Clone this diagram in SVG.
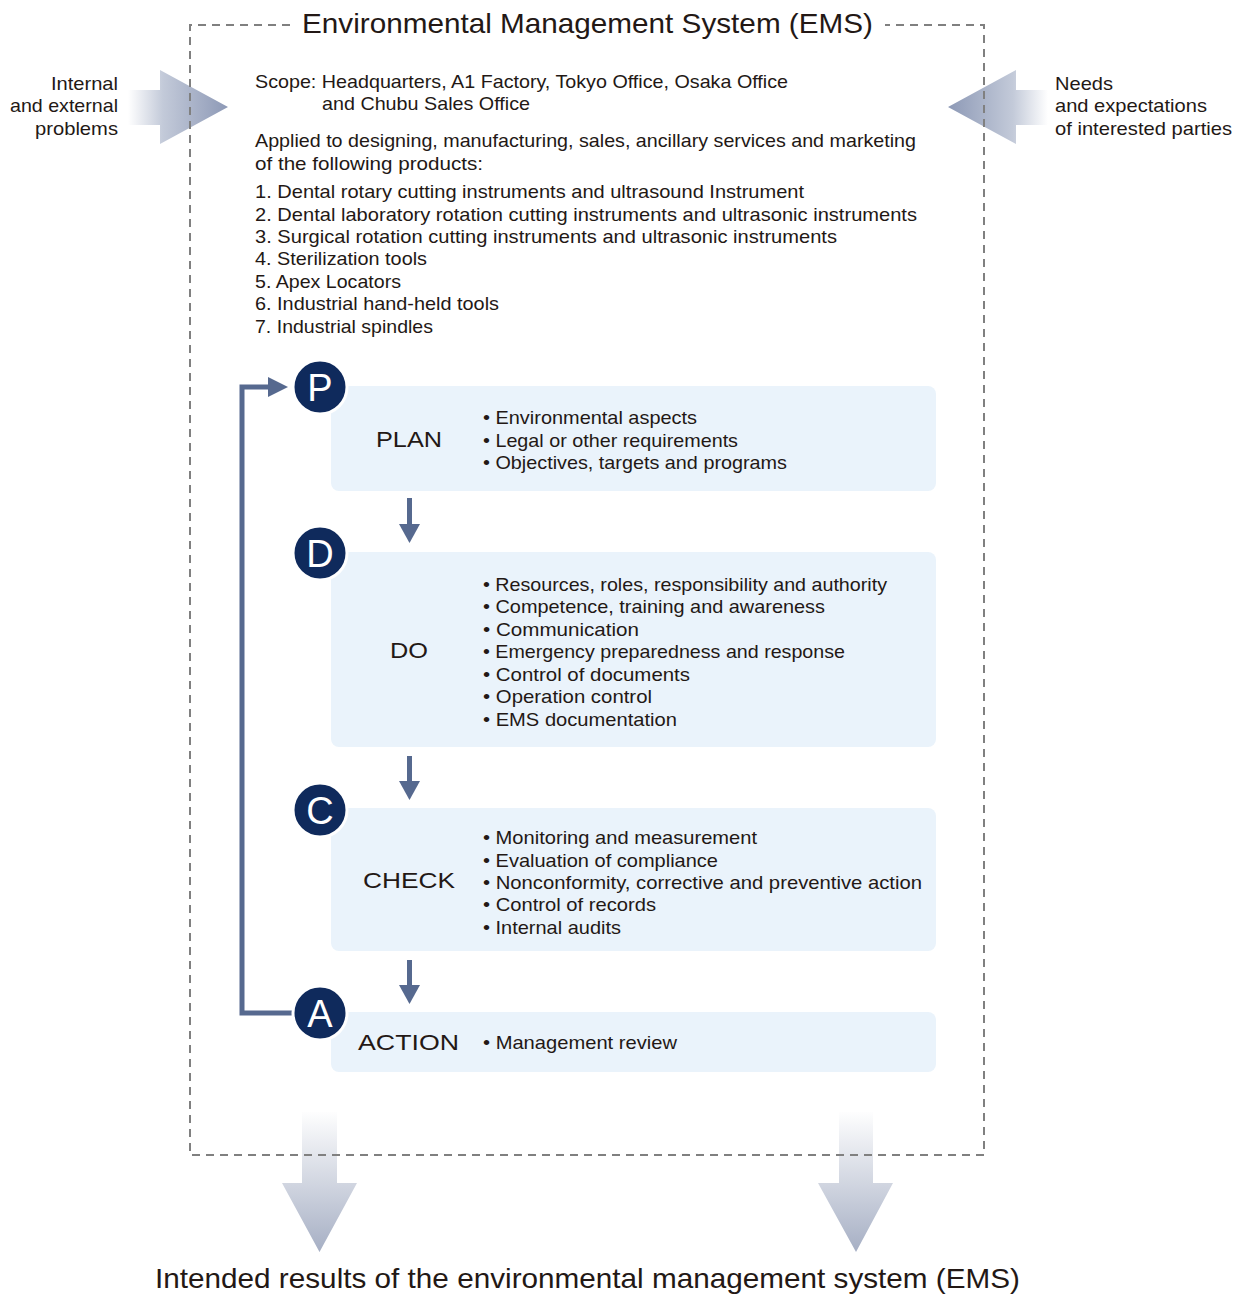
<svg xmlns="http://www.w3.org/2000/svg" width="1246" height="1295" viewBox="0 0 1246 1295">
<style>
text{font-family:"Liberation Sans","Noto Sans",sans-serif;fill:#231815;}
.t{font-size:19px;}
.title{font-size:28px;}
.lbl{font-size:22px;}
.box{fill:#eaf3fb;}
.dash{fill:none;stroke:#808080;stroke-width:2;stroke-dasharray:8 6;}
.circ{fill:#0f2a5c;stroke:#fff;stroke-width:3;}
.cl{font-size:38px;fill:#fff;text-anchor:middle;}
.flow{stroke:#56698f;stroke-width:5;fill:none;}
.head{fill:#56698f;}
</style>
<defs>
<linearGradient id="gL" x1="128" y1="0" x2="228" y2="0" gradientUnits="userSpaceOnUse"><stop offset="0" stop-color="#ffffff"/><stop offset="0.35" stop-color="#c3cad9"/><stop offset="1" stop-color="#8d99b6"/></linearGradient>
<linearGradient id="gR" x1="1048" y1="0" x2="948" y2="0" gradientUnits="userSpaceOnUse"><stop offset="0" stop-color="#ffffff"/><stop offset="0.35" stop-color="#c3cad9"/><stop offset="1" stop-color="#8d99b6"/></linearGradient>
<linearGradient id="gD" x1="0" y1="1110" x2="0" y2="1252" gradientUnits="userSpaceOnUse"><stop offset="0" stop-color="#ffffff"/><stop offset="1" stop-color="#a6afc4"/></linearGradient>
</defs>

<g id="inputs">
<path d="M128,90 H160 V70 L228,107 L160,144 V125 H128 Z" fill="url(#gL)"/>
<path d="M1048,90 H1016 V70 L948,107 L1016,144 V125 H1048 Z" fill="url(#gR)"/>
<path d="M302,1112 H337 V1183 H357 L319.5,1252 L282,1183 H302 Z" fill="url(#gD)"/>
<path d="M839,1112 H873 V1183 H893 L856,1252 L818,1183 H839 Z" fill="url(#gD)"/>
</g>

<g id="frame">
<path class="dash" d="M290,25 H190 V1155 H984 V25 H885"/>
<text class="title" x="302" y="33" textLength="571" lengthAdjust="spacingAndGlyphs">Environmental Management System (EMS)</text>
</g>

<g id="left-label">
<text class="t" x="51" y="90" textLength="67" lengthAdjust="spacingAndGlyphs">Internal</text>
<text class="t" x="10" y="112" textLength="108" lengthAdjust="spacingAndGlyphs">and external</text>
<text class="t" x="35" y="135" textLength="83" lengthAdjust="spacingAndGlyphs">problems</text>
</g>
<g id="right-label">
<text class="t" x="1055" y="90" textLength="58" lengthAdjust="spacingAndGlyphs">Needs</text>
<text class="t" x="1055" y="112" textLength="152" lengthAdjust="spacingAndGlyphs">and expectations</text>
<text class="t" x="1055" y="135" textLength="177" lengthAdjust="spacingAndGlyphs">of interested parties</text>
</g>

<g id="scope">
<text class="t" x="255" y="88" textLength="533" lengthAdjust="spacingAndGlyphs">Scope: Headquarters, A1 Factory, Tokyo Office, Osaka Office</text>
<text class="t" x="322" y="110" textLength="208" lengthAdjust="spacingAndGlyphs">and Chubu Sales Office</text>
<text class="t" x="255" y="147" textLength="661" lengthAdjust="spacingAndGlyphs">Applied to designing, manufacturing, sales, ancillary services and marketing</text>
<text class="t" x="255" y="170" textLength="228" lengthAdjust="spacingAndGlyphs">of the following products:</text>
<text class="t" x="255" y="198" textLength="549" lengthAdjust="spacingAndGlyphs">1. Dental rotary cutting instruments and ultrasound Instrument</text>
<text class="t" x="255" y="221" textLength="662" lengthAdjust="spacingAndGlyphs">2. Dental laboratory rotation cutting instruments and ultrasonic instruments</text>
<text class="t" x="255" y="243" textLength="582" lengthAdjust="spacingAndGlyphs">3. Surgical rotation cutting instruments and ultrasonic instruments</text>
<text class="t" x="255" y="265" textLength="172" lengthAdjust="spacingAndGlyphs">4. Sterilization tools</text>
<text class="t" x="255" y="288" textLength="146" lengthAdjust="spacingAndGlyphs">5. Apex Locators</text>
<text class="t" x="255" y="310" textLength="244" lengthAdjust="spacingAndGlyphs">6. Industrial hand-held tools</text>
<text class="t" x="255" y="333" textLength="178" lengthAdjust="spacingAndGlyphs">7. Industrial spindles</text>
</g>

<g id="connectors">
<path class="flow" d="M293,1013 H242 V387 H270"/>
<path class="head" d="M268,377 L288,387 L268,397 Z"/>
<path class="flow" d="M409.5,498 V527"/>
<path class="head" d="M399,524 H420 L409.5,543 Z"/>
<path class="flow" d="M409.5,756 V784"/>
<path class="head" d="M399,781 H420 L409.5,800 Z"/>
<path class="flow" d="M409.5,960 V988"/>
<path class="head" d="M399,985 H420 L409.5,1004 Z"/>
</g>

<g id="plan">
<rect class="box" x="331" y="386" width="605" height="105" rx="8"/>
<text class="lbl" x="376" y="447" textLength="66" lengthAdjust="spacingAndGlyphs">PLAN</text>
<text class="t" x="483" y="424" textLength="214" lengthAdjust="spacingAndGlyphs">• Environmental aspects</text>
<text class="t" x="483" y="447" textLength="255" lengthAdjust="spacingAndGlyphs">• Legal or other requirements</text>
<text class="t" x="483" y="469" textLength="304" lengthAdjust="spacingAndGlyphs">• Objectives, targets and programs</text>
<circle class="circ" cx="320" cy="387" r="27"/>
<text class="cl" x="320" y="401">P</text>
</g>

<g id="do">
<rect class="box" x="331" y="552" width="605" height="195" rx="8"/>
<text class="lbl" x="390" y="658" textLength="38" lengthAdjust="spacingAndGlyphs">DO</text>
<text class="t" x="483" y="591" textLength="404" lengthAdjust="spacingAndGlyphs">• Resources, roles, responsibility and authority</text>
<text class="t" x="483" y="613" textLength="342" lengthAdjust="spacingAndGlyphs">• Competence, training and awareness</text>
<text class="t" x="483" y="636" textLength="156" lengthAdjust="spacingAndGlyphs">• Communication</text>
<text class="t" x="483" y="658" textLength="362" lengthAdjust="spacingAndGlyphs">• Emergency preparedness and response</text>
<text class="t" x="483" y="681" textLength="207" lengthAdjust="spacingAndGlyphs">• Control of documents</text>
<text class="t" x="483" y="703" textLength="169" lengthAdjust="spacingAndGlyphs">• Operation control</text>
<text class="t" x="483" y="726" textLength="194" lengthAdjust="spacingAndGlyphs">• EMS documentation</text>
<circle class="circ" cx="320" cy="553" r="27"/>
<text class="cl" x="320" y="567">D</text>
</g>

<g id="check">
<rect class="box" x="331" y="808" width="605" height="143" rx="8"/>
<text class="lbl" x="363" y="888" textLength="92" lengthAdjust="spacingAndGlyphs">CHECK</text>
<text class="t" x="483" y="844" textLength="274" lengthAdjust="spacingAndGlyphs">• Monitoring and measurement</text>
<text class="t" x="483" y="867" textLength="235" lengthAdjust="spacingAndGlyphs">• Evaluation of compliance</text>
<text class="t" x="483" y="889" textLength="439" lengthAdjust="spacingAndGlyphs">• Nonconformity, corrective and preventive action</text>
<text class="t" x="483" y="911" textLength="173" lengthAdjust="spacingAndGlyphs">• Control of records</text>
<text class="t" x="483" y="934" textLength="138" lengthAdjust="spacingAndGlyphs">• Internal audits</text>
<circle class="circ" cx="320" cy="810" r="27"/>
<text class="cl" x="320" y="824">C</text>
</g>

<g id="action">
<rect class="box" x="331" y="1012" width="605" height="60" rx="8"/>
<text class="lbl" x="358" y="1050" textLength="101" lengthAdjust="spacingAndGlyphs">ACTION</text>
<text class="t" x="483" y="1049" textLength="194" lengthAdjust="spacingAndGlyphs">• Management review</text>
<circle class="circ" cx="320" cy="1013" r="27"/>
<text class="cl" x="320" y="1027">A</text>
</g>

<g id="result">
<text class="title" x="155" y="1288" textLength="865" lengthAdjust="spacingAndGlyphs">Intended results of the environmental management system (EMS)</text>
</g>
</svg>
